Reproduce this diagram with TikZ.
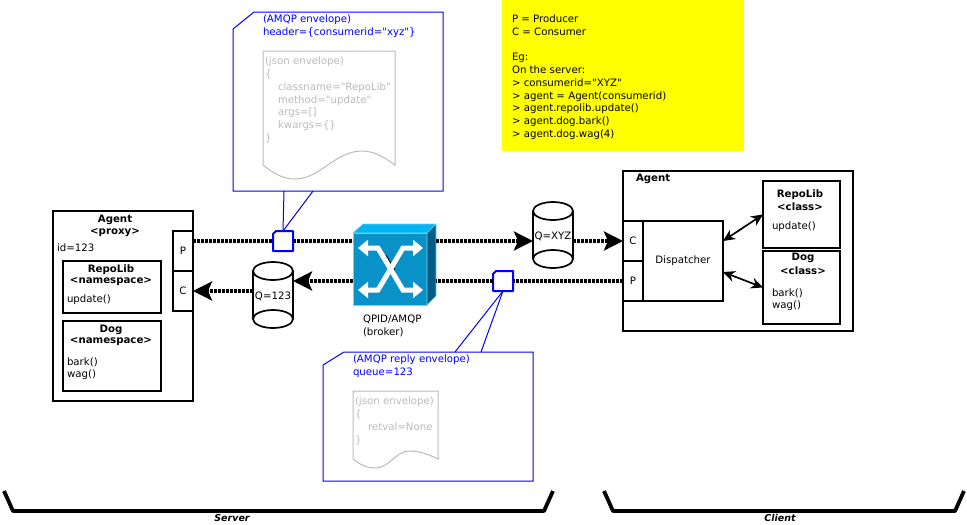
\documentclass[tikz,border=0pt]{standalone}
\usepackage{fontspec}
\setmainfont{DejaVu Sans}[Ligatures=TeXOff]
\usetikzlibrary{arrows.meta}
\definecolor{noteyellow}{RGB}{255,255,0}
\definecolor{brokerfront}{RGB}{8,146,200}
\definecolor{brokertop}{RGB}{0,180,245}
\definecolor{brokerside}{RGB}{0,92,130}
\definecolor{brokeredge}{RGB}{120,210,245}
\tikzset{
  boxline/.style={draw=black, line width=1.7pt},
  boxnode/.style={boxline, rectangle, inner sep=0pt, outer sep=0pt},
  blanknode/.style={rectangle, inner sep=0pt, outer sep=0pt},
  txt/.style={font=\fontsize{10.2}{12.8}\selectfont, inner sep=0pt, outer sep=0pt, align=left, anchor=west},
  txtc/.style={txt, anchor=center, align=center},
  bold/.style={txtc, font=\fontsize{10.2}{12.8}\selectfont\bfseries},
  dotline/.style={line width=3.4pt, dash pattern=on 2.6pt off 1.4pt},
  dotarrow/.style={dotline, -{Stealth[length=19pt,width=19pt,inset=4pt]}},
  callout/.style={draw=blue, line width=1pt},
  msgline/.style={draw=blue, line width=2pt, line join=round},
  jsonline/.style={draw=black!27, line width=1pt},
  brokerarrow/.style={draw=white, line width=5pt, {Triangle[length=10pt,width=16pt]}-{Triangle[length=10pt,width=16pt]}},
}
\newcommand{\drawqueue}[4]{
  % parameter 1: node name
  % parameter 2: x of centre
  % parameter 3: y of centre
  % parameter 4: label
  \draw[boxline] (#2,#3-24) ellipse [x radius=20, y radius=9];
  \draw[boxline] (#2,#3+24) ellipse [x radius=20, y radius=9];
  \draw[boxline] (#2-20,#3-24) -- (#2-20,#3+24);
  \draw[boxline] (#2+20,#3-24) -- (#2+20,#3+24);
  \node[inner sep=0pt, outer sep=0pt, minimum width=40pt, minimum height=66pt, txtc] (#1) at (#2,#3) {#4};
}
\newcommand{\cutbox}[4]{
  % parameter 1: style
  % parameter 2: node name
  % parameter 3: cut along the top
  % parameter 4: cut along the left
  \draw[#1] ([yshift=-#4pt]#2.north west) -- ([xshift=#3pt]#2.north west) -- (#2.north east)
    -- (#2.south east) -- (#2.south west) -- cycle;
}
\begin{document}
\begin{tikzpicture}[x=1pt,y=-1pt]
  \useasboundingbox (0,0) rectangle (967,525);

  % notes
  \fill[noteyellow] (502,0) rectangle (744,151);
  \node[txt, anchor=north west] (notes) at (512,14.5) {P = Producer\\C = Consumer\\[12.8pt]Eg:\\On the server:\\> consumerid="XYZ"\\> agent = Agent(consumerid)\\> agent.repolib.update()\\> agent.dog.bark()\\> agent.dog.wag(4)};

  % server side
  \node[boxnode, minimum width=140pt, minimum height=190pt] (proxy) at (123,306) {};
  \node[bold] (proxytitle) at (115,220) {Agent};
  \node[bold] (proxystereo) at (115,233) {<proxy>};
  \node[txt] (proxyid) at (57,248) {id=123};
  \node[boxnode, minimum width=20pt, minimum height=40pt, txtc] (proxyP) at (183,251) {P};
  \node[boxnode, minimum width=20pt, minimum height=40pt, txtc] (proxyC) at (183,291) {C};
  \node[boxnode, minimum width=98pt, minimum height=52pt] (nsrepo) at (112,287) {};
  \node[bold] (nsrepotitle) at (111,270) {RepoLib};
  \node[bold] (nsrepostereo) at (111,282) {<namespace>};
  \node[txt] (nsrepoupdate) at (67,299.5) {update()};
  \node[boxnode, minimum width=98pt, minimum height=70pt] (nsdog) at (112,356) {};
  \node[bold] (nsdogtitle) at (111,330) {Dog};
  \node[bold] (nsdogstereo) at (111,342) {<namespace>};
  \node[txt] (nsdogbark) at (67,362.5) {bark()};
  \node[txt] (nsdogwag) at (67,374.5) {wag()};
  \drawqueue{qserver}{273}{295}{}
  \node[txtc] (qserverlabel) at (273,296) {Q=123};

  % broker
  \node[rectangle, fill=brokerfront, draw=brokeredge, line width=0.6pt, minimum width=74pt, minimum height=72pt, inner sep=0pt, outer sep=0pt] (broker) at (390,269) {};
  \fill[brokertop, draw=brokeredge, line width=0.6pt] (broker.north west) -- (363,224) -- (436,224) -- (broker.north east) -- cycle;
  \fill[brokerside, draw=brokeredge, line width=0.6pt] (broker.north east) -- (436,224) -- (436,296) -- (broker.south east) -- cycle;
  \draw[black, line width=0.7pt] (386,255) -- (395,270);
  \draw[black, line width=0.7pt] (398,257) -- (388,274);
  \draw[brokerarrow] (358,248) -- (378,248) -- (403,290) -- (423,290);
  \draw[brokerarrow] (358,290) -- (378,290) -- (403,248) -- (423,248);
  \node[txt, anchor=north west] (brokerlabel) at (363,315) {QPID/AMQP\\(broker)};

  % client side
  \node[boxnode, minimum width=230pt, minimum height=160pt] (agent) at (738,251) {};
  \node[bold, anchor=west] (agenttitle) at (636,178.5) {Agent};
  \node[boxnode, minimum width=20pt, minimum height=40pt, txtc] (agentC) at (633,241) {C};
  \node[boxnode, minimum width=20pt, minimum height=40pt, txtc] (agentP) at (633,281) {P};
  \node[boxnode, minimum width=80pt, minimum height=80pt, txtc] (dispatcher) at (683,261) {Dispatcher};
  \node[boxnode, minimum width=77pt, minimum height=67pt] (clsrepo) at (801.5,214.5) {};
  \node[bold] (clsrepotitle) at (800,195) {RepoLib};
  \node[bold] (clsrepostereo) at (800,207) {<class>};
  \node[txt] (clsrepoupdate) at (772,227) {update()};
  \node[boxnode, minimum width=77pt, minimum height=73pt] (clsdog) at (801.5,287.5) {};
  \node[bold] (clsdogtitle) at (803,258) {Dog};
  \node[bold] (clsdogstereo) at (803,271) {<class>};
  \node[txt] (clsdogbark) at (772,293) {bark()};
  \node[txt] (clsdogwag) at (772,306) {wag()};
  \drawqueue{qclient}{553}{235}{}
  \node[txtc] (qclientlabel) at (553,236) {Q=XYZ};

  % request and reply envelopes
  \node[blanknode, minimum width=210pt, minimum height=179pt] (envreq) at (338,101.5) {};
  \cutbox{callout}{envreq}{21}{17}
  \node[txt, blue, anchor=north west] (envreqtext) at (263,14.5) {(AMQP envelope)\\header=\{consumerid="xyz"\}};
  \draw[jsonline] (263,165) -- (263,51) -- (395,51) -- (395,165)
    .. controls (385,158) and (375,151) .. (362,151)
    .. controls (335,151) and (320,179) .. (295,179)
    .. controls (285,179) and (275,175) .. (263,165);
  \node[txt, black!27, anchor=north west] (jsonreq) at (265,57) {(json envelope)\\\{\\\hspace*{13pt}classname="RepoLib"\\\hspace*{13pt}method="update"\\\hspace*{13pt}args=[]\\\hspace*{13pt}kwargs=\{\}\\\}};
  \node[blanknode, minimum width=210pt, minimum height=129pt] (envrep) at (428,416.5) {};
  \cutbox{callout}{envrep}{21}{13}
  \node[txt, blue, anchor=north west] (envreptext) at (353,354.5) {(AMQP reply envelope)\\queue=123};
  \draw[jsonline] (353,459) -- (353,391) -- (438,391) -- (438,459)
    .. controls (430,455) and (420,451) .. (410,451)
    .. controls (395,451) and (390,468) .. (375,468)
    .. controls (368,468) and (360,465) .. (353,459);
  \node[txt, black!27, anchor=north west] (jsonrep) at (355,397) {(json envelope)\\\{\\\hspace*{13pt}retval=None\\\}};
  \node[blanknode, minimum width=20pt, minimum height=20pt] (msgreq) at (283,241) {};
  \cutbox{msgline}{msgreq}{3}{3}
  \node[blanknode, minimum width=20pt, minimum height=20pt] (msgrep) at (503,281) {};
  \cutbox{msgline}{msgrep}{3}{3}
  \draw[callout] ([xshift=-54pt]envreq.south) -- (msgreq.north);
  \draw[callout] ([xshift=-25pt]envreq.south) -- (msgreq.north);
  \draw[callout] ([xshift=27pt]envrep.north) -- (msgrep.south);
  \draw[callout] ([xshift=53pt]envrep.north) -- (msgrep.south);

  % message flow
  \draw[dotline] (proxyP.east |- msgreq) -- (msgreq.west);
  \draw[dotline] (msgreq.east) -- (broker.west |- msgreq);
  \draw[dotarrow] (436,241) -- (qclient.west |- agentC);
  \draw[dotarrow] (qclient.east |- agentC) -- (agentC.west);
  \draw[dotline] (agentP.west) -- (msgrep.east);
  \draw[dotline] (msgrep.west) -- (436,281);
  \draw[dotarrow] (broker.west |- msgrep) -- (qserver.east |- msgrep);
  \draw[dotarrow] (qserver.west |- proxyC) -- (proxyC.east);
  \draw[line width=1.7pt, {Stealth[length=12pt,width=11pt]}-{Stealth[length=12pt,width=11pt]}] ([yshift=20pt]dispatcher.east) -- (clsrepo.west);
  \draw[line width=1.7pt, {Stealth[length=12pt,width=11pt]}-{Stealth[length=12pt,width=11pt]}] ([yshift=-11pt]dispatcher.east) -- (clsdog.west);

  % braces
  \coordinate (srvA) at (4,491);
  \coordinate (srvB) at (13,511);
  \coordinate (srvC) at (544,511);
  \coordinate (srvD) at (553,491);
  \draw[line width=3.8pt, line join=round] (srvA) -- (srvB) -- (srvC) -- (srvD);
  \coordinate (cliA) at (604,491);
  \coordinate (cliB) at (613,511);
  \coordinate (cliC) at (955,511);
  \coordinate (cliD) at (964,491);
  \draw[line width=3.8pt, line join=round] (cliA) -- (cliB) -- (cliC) -- (cliD);
  \node[bold, font=\fontsize{9.5}{12}\selectfont\bfseries\itshape] (server) at (232,518) {Server};
  \node[bold, font=\fontsize{9.5}{12}\selectfont\bfseries\itshape] (client) at (780,518) {Client};
\end{tikzpicture}
\end{document}
